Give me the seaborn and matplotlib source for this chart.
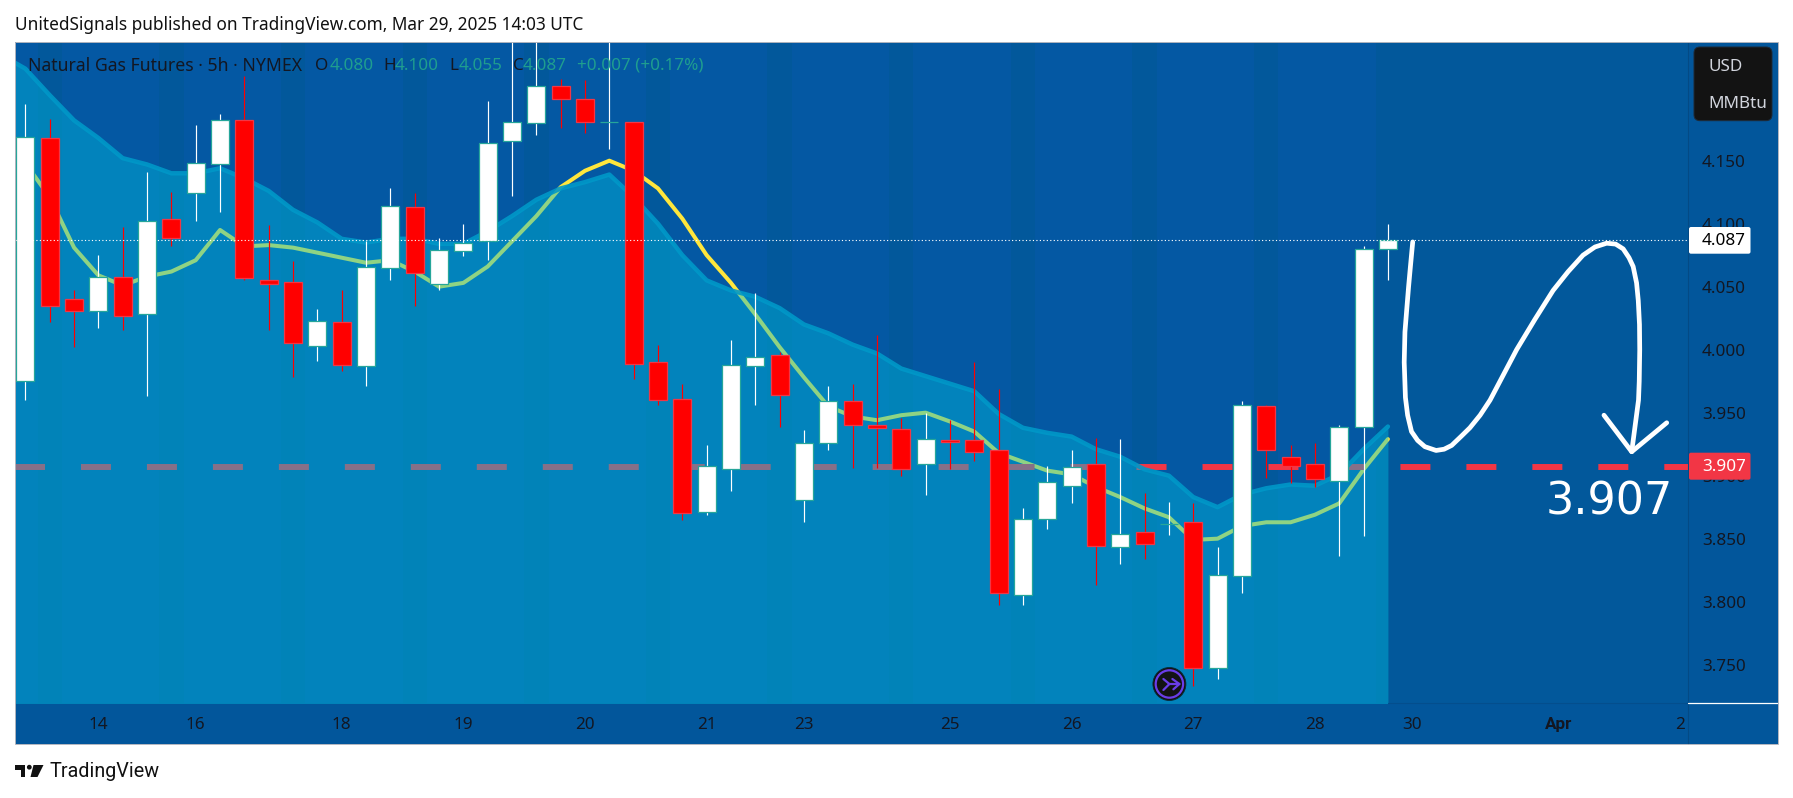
import numpy as np
import pandas as pd
import matplotlib
matplotlib.use('Agg')
import matplotlib.pyplot as plt
import seaborn as sns
from matplotlib.lines import Line2D
from matplotlib.patches import Rectangle, FancyBboxPatch, Polygon, Circle
from matplotlib.transforms import Affine2D

W, H = 1793, 798

# candles, 5h bars
opens = [3.975, 4.168, 4.040, 4.031, 4.058, 4.028, 4.104, 4.124, 4.147, 4.182,
         4.055, 4.054, 4.003, 4.022, 3.987, 4.065, 4.113, 4.052, 4.078, 4.086,
         4.166, 4.180, 4.209, 4.199, 4.181, 4.181, 3.990, 3.961, 3.871, 3.905,
         3.987, 3.996, 3.881, 3.926, 3.959, 3.940, 3.937, 3.909, 3.928, 3.928,
         3.920, 3.805, 3.866, 3.892, 3.909, 3.843, 3.855, 3.862, 3.863, 3.747,
         3.820, 3.955, 3.915, 3.909, 3.896, 3.939, 4.080]
closes = [4.169, 4.035, 4.031, 4.058, 4.027, 4.102, 4.089, 4.148, 4.182, 4.057,
          4.052, 4.005, 4.023, 3.988, 4.066, 4.114, 4.061, 4.079, 4.085, 4.164,
          4.181, 4.209, 4.199, 4.181, 4.181, 3.989, 3.960, 3.870, 3.908, 3.988,
          3.994, 3.964, 3.926, 3.959, 3.940, 3.938, 3.905, 3.929, 3.927, 3.919,
          3.807, 3.866, 3.895, 3.907, 3.844, 3.854, 3.846, 3.862, 3.747, 3.821,
          3.956, 3.920, 3.908, 3.897, 3.939, 4.080, 4.087]
highs = [4.195, 4.183, 4.047, 4.075, 4.097, 4.141, 4.125, 4.178, 4.187, 4.217,
         4.099, 4.070, 4.032, 4.047, 4.086, 4.128, 4.124, 4.089, 4.100, 4.197,
         4.260, 4.260, 4.215, 4.214, 4.260, 4.181, 4.004, 3.973, 3.924, 4.008,
         4.045, 3.998, 3.936, 3.971, 3.973, 4.012, 3.946, 3.950, 3.944, 3.990,
         3.969, 3.874, 3.908, 3.920, 3.930, 3.929, 3.886, 3.879, 3.878, 3.843,
         3.959, 3.956, 3.924, 3.926, 3.940, 4.082, 4.100]
lows = [3.960, 4.022, 4.002, 4.017, 4.016, 3.963, 4.082, 4.102, 4.109, 4.055,
        4.016, 3.978, 3.991, 3.983, 3.971, 4.055, 4.035, 4.047, 4.074, 4.071,
        4.122, 4.170, 4.176, 4.172, 4.159, 3.977, 3.956, 3.865, 3.869, 3.888,
        3.956, 3.939, 3.863, 3.920, 3.906, 3.906, 3.900, 3.885, 3.905, 3.912,
        3.797, 3.797, 3.858, 3.878, 3.813, 3.830, 3.834, 3.853, 3.733, 3.739,
        3.807, 3.898, 3.894, 3.891, 3.836, 3.852, 4.055]

# the two moving averages start one bar left of the first candle
upper_avg = [4.234, 4.223, 4.202, 4.182, 4.168, 4.152, 4.147, 4.140, 4.140, 4.144,
             4.136, 4.126, 4.111, 4.101, 4.088, 4.085, 4.088, 4.088, 4.084, 4.084,
             4.094, 4.106, 4.119, 4.128, 4.133, 4.139, 4.121, 4.100, 4.075, 4.055,
             4.047, 4.042, 4.033, 4.020, 4.013, 4.004, 3.997, 3.985, 3.979, 3.973,
             3.967, 3.949, 3.938, 3.934, 3.931, 3.921, 3.915, 3.905, 3.900, 3.883,
             3.875, 3.885, 3.890, 3.893, 3.892, 3.901, 3.921, 3.939]
fast_avg = [4.169, 4.148, 4.121, 4.081, 4.059, 4.051, 4.058, 4.062, 4.071, 4.095,
            4.082, 4.083, 4.081, 4.077, 4.073, 4.069, 4.071, 4.062, 4.050, 4.053,
            4.066, 4.086, 4.106, 4.129, 4.142, 4.150, 4.142, 4.128, 4.104, 4.075,
            4.053, 4.028, 4.002, 3.978, 3.955, 3.947, 3.944, 3.948, 3.950, 3.943,
            3.935, 3.918, 3.911, 3.904, 3.901, 3.891, 3.883, 3.874, 3.867, 3.849,
            3.850, 3.860, 3.863, 3.863, 3.869, 3.878, 3.905, 3.929]

# hand drawn forecast path
path_bar = [57.02, 56.93, 56.85, 56.77, 56.70, 56.67, 56.67, 56.72, 56.81, 56.97,
            57.22, 57.52, 57.98, 58.31, 58.62, 59.00, 59.37, 59.79, 60.20, 61.29,
            62.04, 62.79, 63.41, 64.02, 64.51, 64.99, 65.36, 65.67, 65.91, 66.08,
            66.22, 66.29, 66.34, 66.35, 66.33, 66.30, 66.02]
path_price = [4.0855, 4.067, 4.050, 4.031, 4.014, 4.000, 3.980, 3.962, 3.948, 3.935,
              3.928, 3.923, 3.920, 3.921, 3.924, 3.931, 3.938, 3.948, 3.960, 4.000,
              4.024, 4.047, 4.062, 4.075, 4.0815, 4.0845, 4.0838, 4.080, 4.073, 4.066,
              4.053, 4.039, 4.020, 4.000, 3.975, 3.960, 3.919]
head_bar = [64.88, 66.02, 67.46]
head_price = [3.948, 3.919, 3.942]

session_bars = [1, 6, 11, 16, 21, 26, 31, 36, 41, 46, 51]
day_bars = [3, 7, 13, 18, 23, 28, 32, 38, 43, 48, 53, 57, 63, 68]
day_labels = ['14', '16', '18', '19', '20', '21', '23', '25', '26', '27', '28', '30', 'Apr', '2']
price_ticks = [3.75, 3.80, 3.85, 3.90, 3.95, 4.00, 4.05, 4.10, 4.15]
last_price = 4.087
target_price = 3.907

BG = '#0458A3'
BG_DARK = '#02589B'
AXIS_BG = '#02569B'
OVERLAY = (0, 188 / 255, 222 / 255)
RED = '#FF0000'
TAG_RED = '#F23645'
TEAL = '#26A69A'
INK = '#131722'
GREEN_TXT = '#1F9E8F'

sns.set_theme(style='white')
plt.rcParams['font.family'] = ['Noto Sans', 'DejaVu Sans']
plt.rcParams['lines.scale_dashes'] = False

fig = plt.figure(figsize=(W / 100, H / 100), dpi=100, facecolor='white')
# pixel coordinates of the image, y going down
px = Affine2D().scale(1 / W, -1 / H).translate(0, 1) + fig.transFigure

fig.add_artist(Rectangle((15, 41.5), 1763, 702.5, transform=px, facecolor=AXIS_BG,
                         edgecolor='none', zorder=-1))

ax = fig.add_axes([15 / W, (H - 702.7) / H, 1673 / W, 661.2 / H], facecolor=BG)
ax.set_xlim(-0.4275, 68.334)
ax.set_ylim(3.7198, 4.2446)
for s in ax.spines.values():
    s.set_visible(False)

# lighter bars every fifth candle, and everything after the last one
for b in session_bars:
    ax.axvspan(b - 0.5, b + 0.5, color=BG_DARK, lw=0, zorder=1)
ax.axvspan(55.5, 68.334, color=BG_DARK, lw=0, zorder=1)

avg_df = pd.DataFrame({'bar': np.arange(-1, 57), 'upper': upper_avg, 'fast': fast_avg})

sns.lineplot(data=avg_df, x='bar', y='fast', ax=ax, color='#FFE63C', lw=2.9, zorder=2,
             errorbar=None, legend=False, solid_joinstyle='round')
ax.plot([-0.4275, 68.334], [target_price, target_price], color=TAG_RED, lw=4.3,
        dashes=(21.6, 25.9), dash_capstyle='butt', zorder=2)

# the shaded area sits over the average and the dashed level
ax.fill_between(avg_df['bar'], 3.7, avg_df['upper'], color=OVERLAY, alpha=0.44, lw=0, zorder=3)
sns.lineplot(data=avg_df, x='bar', y='upper', ax=ax, color='#0098C8', lw=3.2, alpha=0.9,
             zorder=3.5, errorbar=None, legend=False, solid_joinstyle='round',
             solid_capstyle='round')

candles = pd.DataFrame({'open': opens, 'close': closes, 'high': highs, 'low': lows})
candles['bar'] = np.arange(len(candles))
up = candles['close'] >= candles['open']
ax.vlines(candles['bar'], candles['low'], candles['high'],
          colors=['white' if u else RED for u in up], lw=0.85, zorder=4)
for _, c in candles.iterrows():
    rising = c['close'] >= c['open']
    ax.bar(c['bar'], abs(c['close'] - c['open']), bottom=min(c['open'], c['close']), width=0.74,
           color='white' if rising else RED, edgecolor=TEAL if rising else TAG_RED,
           lw=0.9, zorder=4.2)

ax.plot([-0.4275, 68.334], [last_price, last_price], color='white', lw=0.8,
        dashes=(0.85, 1.65), zorder=5)

sns.lineplot(x=path_bar, y=path_price, ax=ax, color='white', lw=3.4, zorder=6, sort=False,
             errorbar=None, solid_capstyle='round', solid_joinstyle='round')
sns.lineplot(x=head_bar, y=head_price, ax=ax, color='white', lw=3.4, zorder=6, sort=False,
             errorbar=None, solid_capstyle='round', solid_joinstyle='round')

ax.set_xticks(day_bars)
ax.set_xticklabels(day_labels)
ax.yaxis.tick_right()
ax.set_yticks(price_ticks)
ax.set_yticklabels([f'{p:.3f}' for p in price_ticks])
ax.tick_params(axis='x', length=0, pad=10, labelsize=12.3, labelcolor=INK)
ax.tick_params(axis='y', length=0, pad=10, labelsize=12.3, labelcolor=INK)
apr_label = ax.get_xticklabels()[12]
apr_label.set_family('Roboto')
apr_label.set_fontweight('bold')
ax.set_xlabel('')
ax.set_ylabel('')


def put(x, y, s, **kw):
    kw.setdefault('va', 'center')
    kw.setdefault('color', INK)
    kw.setdefault('fontsize', 12.3)
    fig.text(x, y, s, transform=px, **kw)


# header and legend line
put(15, 25, 'UnitedSignals published on TradingView.com, Mar 29, 2025 14:03 UTC',
    color='#111111', fontsize=12.4)
put(27.5, 66, 'Natural Gas Futures \u00b7 5h \u00b7 NYMEX', fontsize=12.7, zorder=8)
for x, s, col in [(314.5, 'O', INK), (329.5, '4.080', GREEN_TXT), (383, 'H', INK), (395, '4.100', GREEN_TXT),
                  (449.5, 'L', INK), (458.5, '4.055', GREEN_TXT), (512.5, 'C', INK), (523, '4.087', GREEN_TXT),
                  (577, '+0.007 (+0.17%)', GREEN_TXT)]:
    put(x, 66, s, color=col, zorder=8)

# price axis
fig.add_artist(Line2D([1688, 1688], [41.5, 744], transform=px, color='#034A85', lw=0.8))
fig.add_artist(Line2D([1388, 1688], [703, 703], transform=px, color='#034E8D', lw=0.8))
fig.add_artist(Line2D([1688, 1778], [702.5, 702.5], transform=px, color='white', lw=0.9))

fig.add_artist(FancyBboxPatch((1689, 227), 61.5, 26.7, boxstyle='round,pad=0,rounding_size=2',
                              transform=px, facecolor='white', edgecolor='none', zorder=7))
fig.add_artist(FancyBboxPatch((1689, 452.7), 61.5, 27, boxstyle='round,pad=0,rounding_size=2',
                              transform=px, facecolor=TAG_RED, edgecolor='none', zorder=7))
put(1702, 241, '4.087', color='black', fontweight='medium', zorder=8)
put(1702, 467, '3.907', color='white', zorder=8)

fig.add_artist(FancyBboxPatch((1694, 47), 78, 73.7, boxstyle='round,pad=0,rounding_size=6',
                              transform=px, facecolor='#131313', edgecolor='#1E2A38', lw=0.7, zorder=7))
put(1708, 67, 'USD', color='#D1D4DC', zorder=8)
put(1708, 104.5, 'MMBtu', color='#D1D4DC', zorder=8)

put(1546, 502, '3.907', color='white', fontsize=32, family='DejaVu Sans', zorder=8)

# event badge at the bottom of the chart
cx, cy = 1169.4, 684
fig.add_artist(Circle((cx, cy), 16.5, transform=px, facecolor='#131313', edgecolor='#0A2A3A', lw=0.6, zorder=7))
fig.add_artist(Circle((cx, cy), 13.7, transform=px, facecolor='none', edgecolor='#6A3DE8', lw=1.6, zorder=7))
for xs, ys in [([cx + 3, cx + 10, cx + 4], [cy - 5, cy, cy + 5.3]),
               ([cx - 6, cx, cx + 10], [cy - 5, cy, cy]),
               ([cx - 6, cx], [cy + 6, cy])]:
    fig.add_artist(Line2D(xs, ys, transform=px, color='#6A3DE8', lw=1.6, zorder=8, solid_capstyle='round'))

# TradingView mark and name
for pts in [[(15.3, 765), (25.3, 765), (25.3, 777), (20.5, 777), (20.5, 769.5), (15.3, 769.5)],
            [(33.5, 765), (43.5, 765), (37.5, 777), (30.5, 777)]]:
    fig.add_artist(Polygon(pts, closed=True, transform=px, facecolor='#111111', edgecolor='none'))
fig.add_artist(Circle((29.3, 767.2), 2.4, transform=px, facecolor='#111111', edgecolor='none'))
put(50, 771.5, 'TradingView', color='#111111', fontsize=14.2, family='Roboto')

# chart frame
fig.add_artist(Rectangle((15, 41.5), 1763, 702.5, transform=px, facecolor='none',
                         edgecolor='#B2B5BE', lw=0.7, zorder=9))

fig.savefig('out.png', dpi=100)
